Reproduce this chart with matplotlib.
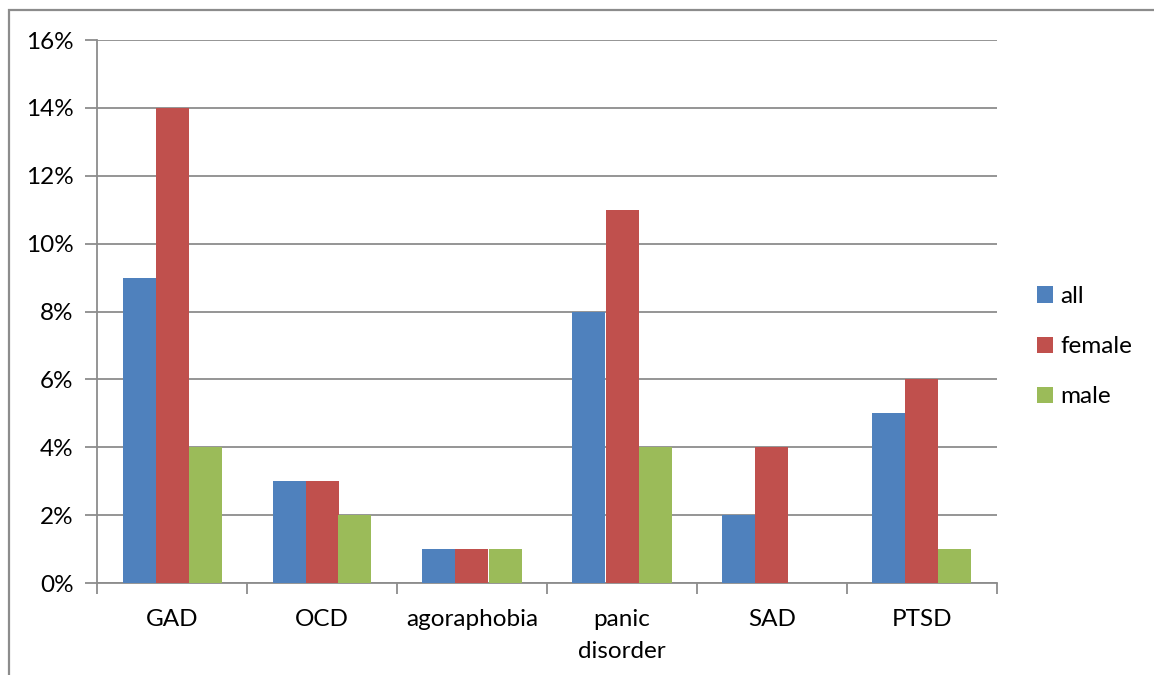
import matplotlib.pyplot as plt
import numpy as np
from matplotlib.patches import Rectangle

plt.rcParams['font.family'] = ['Lato', 'DejaVu Sans']

# Prevalence by disorder (percent)
categories = ['GAD', 'OCD', 'agoraphobia', 'panic\ndisorder', 'SAD', 'PTSD']
all_vals = [9, 3, 1, 8, 2, 5]
female_vals = [14, 3, 1, 11, 4, 6]
male_vals = [4, 2, 1, 4, 0, 1]
series_names = ['all', 'female', 'male']
colors = ['#4F81BD', '#C0504D', '#9BBB59']

W, H = 1154, 675
fig = plt.figure(figsize=(W / 100, H / 100), dpi=100)
ax = fig.add_axes([97 / W, 1 - 583 / H, 900 / W, 543 / H])

# outer chart frame; its right and bottom edges lie outside the figure
frame = Rectangle((8.5, -20), W + 20, H - 10 + 20, transform=None,
                  fill=False, edgecolor='#8C8C8C', linewidth=1.6)
fig.add_artist(frame)

x = np.arange(len(categories))
w = 0.22
for i, (vals, name, c) in enumerate(zip([all_vals, female_vals, male_vals], series_names, colors)):
    ax.bar(x + (i - 1) * w, vals, width=w, color=c, label=name, zorder=3)

ax.set_xlim(-0.5, len(categories) - 0.5)
ax.set_ylim(0, 16)
ax.set_yticks(range(0, 17, 2))
ax.set_yticklabels([f'{v}%' for v in range(0, 17, 2)], fontsize=17.5)
ax.grid(axis='y', color='#8C8C8C', linewidth=1.3, zorder=0)

ax.set_xticks(x)
ax.set_xticklabels(categories, fontsize=17.5, linespacing=1.65)
ax.tick_params(axis='x', length=0, pad=19)
ax.set_xticks(np.arange(-0.5, len(categories)), minor=True)
ax.tick_params(axis='x', which='minor', length=8, width=1.3, color='#8C8C8C')
ax.tick_params(axis='y', length=9, width=1.3, color='#8C8C8C', pad=8)

for s in ['top', 'right']:
    ax.spines[s].set_visible(False)
for s in ['left', 'bottom']:
    ax.spines[s].set_color('#8C8C8C')
    ax.spines[s].set_linewidth(1.3)

ax.legend(loc='center left', bbox_to_anchor=(1.026, 0.435), frameon=False, fontsize=17.5,
          handlelength=0.65, handleheight=0.65, handletextpad=0.3, labelspacing=1.2,
          borderaxespad=0.3)

fig.savefig('out.png', dpi=100)
